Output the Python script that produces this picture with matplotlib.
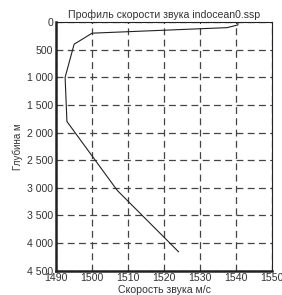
import matplotlib
matplotlib.use('Agg')
import matplotlib.pyplot as plt

plt.rcParams['font.family'] = ['Liberation Sans', 'DejaVu Sans']

# профиль скорости звука
speed = [1540.5, 1540.5, 1537.5, 1500.0, 1495.0, 1492.5, 1493.0, 1507.0, 1524.0]
depth = [0, 50, 100, 200, 400, 1000, 1800, 3050, 4160]

x_ticks = [1490, 1500, 1510, 1520, 1530, 1540, 1550]
y_ticks = [0, 500, 1000, 1500, 2000, 2500, 3000, 3500, 4000, 4500]
y_labels = ['0', '500', '1 000', '1 500', '2 000', '2 500', '3 000', '3 500', '4 000', '4 500']

fig = plt.figure(figsize=(2.82, 2.95), dpi=100)
ax = fig.add_axes([0.199, 0.083, 0.766, 0.842])
ax.plot(speed, depth, color='#222222', lw=0.8)
ax.set_xlim(1490, 1550)
ax.set_ylim(4500, 0)
ax.set_xticks(x_ticks)
ax.set_yticks(y_ticks)
ax.set_yticklabels(y_labels)
ax.grid(True, color='#444444', ls=(0, (5.5, 3.5)), lw=0.9)
ax.tick_params(direction='in', length=0, labelsize=7.6, colors='#333333', pad=2)
for s in ax.spines.values():
    s.set_color('#222222'); s.set_linewidth(0.8)
ax.spines['left'].set_linewidth(1.8)
ax.spines['bottom'].set_linewidth(1.8)
ax.set_title('Профиль скорости звука indocean0.ssp', fontsize=7.6, color='#333333', pad=3)
ax.set_xlabel('Скорость звука м/с', fontsize=7.6, color='#333333', labelpad=1)
ax.set_ylabel('Глубина м', fontsize=7.0, color='#333333', labelpad=3)
fig.savefig('out.png', dpi=100)
